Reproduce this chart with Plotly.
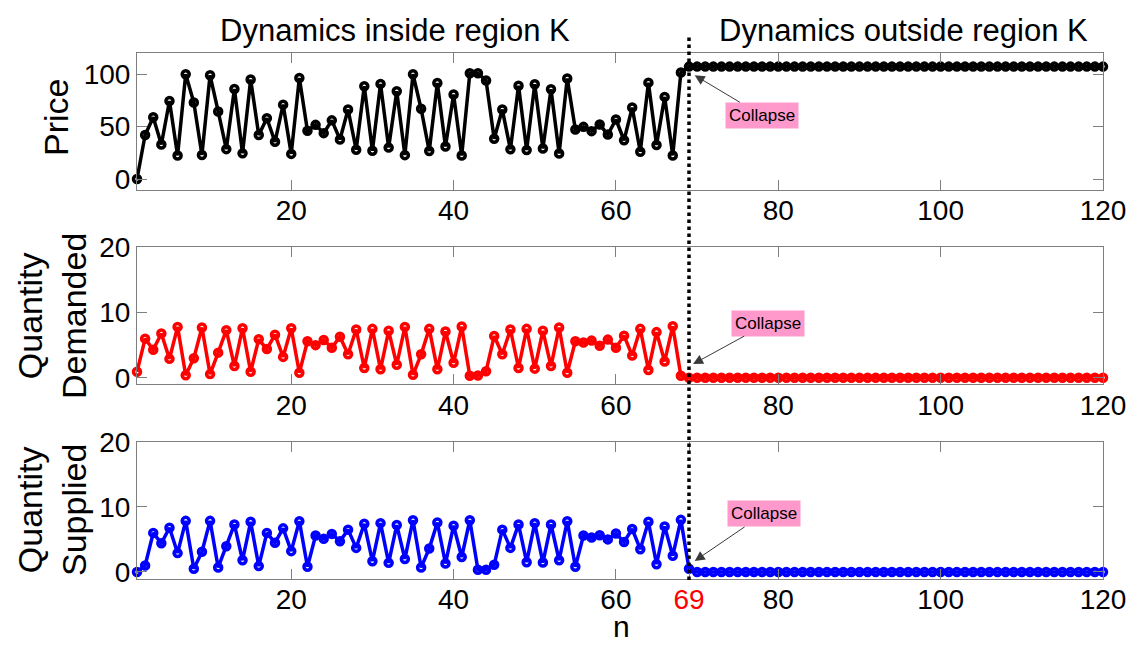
import plotly.graph_objects as go

# Period index
n = list(range(1, 121))

# Price path: oscillation inside region K, then a flat plateau after n = 69
price = [
    0, 42, 59, 33, 74.5, 22.5, 100, 73, 23, 99,
    64.5, 28.5, 86, 24.5, 95, 42, 58, 35.5, 71, 24,
    96.5, 46, 51.7, 43.8, 56, 37.8, 66.3, 28, 88.6, 27,
    90.8, 30, 83.8, 22.8, 100, 67, 26.7, 91.7, 31, 80.6,
    22.4, 101, 101, 94, 38.4, 66.3, 28.3, 89, 27.6, 90.5,
    29.2, 85.7, 24.4, 96, 47.3, 49.8, 45.7, 52, 42.5, 56.8,
    37, 68.2, 26, 92, 32.4, 78.4, 22.5, 101.6,
    107.3, 107.3, 107.3, 107.3, 107.3, 107.3, 107.3, 107.3, 107.3, 107.3,
    107.3, 107.3, 107.3, 107.3, 107.3, 107.3, 107.3, 107.3, 107.3, 107.3,
    107.3, 107.3, 107.3, 107.3, 107.3, 107.3, 107.3, 107.3, 107.3, 107.3,
    107.3, 107.3, 107.3, 107.3, 107.3, 107.3, 107.3, 107.3, 107.3, 107.3,
    107.3, 107.3, 107.3, 107.3, 107.3, 107.3, 107.3, 107.3, 107.3, 107.3,
    107.3, 107.3,
]

# Quantity demanded
q_demanded = [
    0.92, 6.0, 4.3, 6.8, 2.9, 7.8, 0.4, 3.0, 7.7, 0.56,
    3.85, 7.3, 1.8, 7.6, 0.92, 5.9, 4.4, 6.6, 3.2, 7.6,
    0.77, 5.6, 5.0, 5.8, 4.6, 6.3, 3.6, 7.4, 1.5, 7.5,
    1.3, 7.2, 2.0, 7.8, 0.46, 3.6, 7.5, 1.3, 7.1, 2.3,
    7.85, 0.3, 0.36, 1.0, 6.4, 3.6, 7.4, 1.5, 7.5, 1.4,
    7.2, 1.8, 7.7, 0.77, 5.6, 5.4, 5.7, 4.9, 5.85, 4.6,
    6.46, 3.4, 7.5, 1.2, 7.0, 2.5, 7.9, 0.3,
    0, 0, 0, 0, 0, 0, 0, 0, 0, 0,
    0, 0, 0, 0, 0, 0, 0, 0, 0, 0,
    0, 0, 0, 0, 0, 0, 0, 0, 0, 0,
    0, 0, 0, 0, 0, 0, 0, 0, 0, 0,
    0, 0, 0, 0, 0, 0, 0, 0, 0, 0,
    0, 0,
]

# Quantity supplied
q_supplied = [
    0, 1.0, 6.0, 4.4, 6.8, 2.9, 7.85, 0.5, 3.1, 7.85,
    0.7, 3.95, 7.3, 1.8, 7.7, 0.9, 6.0, 4.5, 6.7, 3.2,
    7.8, 0.8, 5.6, 5.1, 5.85, 4.7, 6.5, 3.7, 7.4, 1.65,
    7.5, 1.4, 7.2, 2.0, 7.95, 0.7, 3.6, 7.6, 1.3, 7.1,
    2.3, 7.95, 0.35, 0.35, 1.1, 6.5, 3.7, 7.3, 1.5, 7.5,
    1.45, 7.3, 1.8, 7.8, 0.8, 5.6, 5.3, 5.65, 5.0, 5.9,
    4.6, 6.6, 3.5, 7.7, 1.2, 7.0, 2.5, 8.0, 0.5,
    0, 0, 0, 0, 0, 0, 0, 0, 0, 0,
    0, 0, 0, 0, 0, 0, 0, 0, 0, 0,
    0, 0, 0, 0, 0, 0, 0, 0, 0, 0,
    0, 0, 0, 0, 0, 0, 0, 0, 0, 0,
    0, 0, 0, 0, 0, 0, 0, 0, 0, 0,
    0,
]

collapse_n = 69
x_ticks = [20, 40, 60, 80, 100, 120]
x_ticks_bottom = [20, 40, 60, 69, 80, 100, 120]
x_ticktext_bottom = ["20", "40", "60", "<span style='color:#ff0000'>69</span>",
                     "80", "100", "120"]

W, H = 1146, 647
FONT = "Liberation Sans, Arial, sans-serif"
AXIS_GREY = "#7f7f7f"


def px_x(p):
    return p / W


def px_y(p):
    return 1 - p / H


x_dom = [px_x(137), px_x(1103)]
y_doms = [
    [px_y(189.5), px_y(53.3)],
    [px_y(384.3), px_y(247.3)],
    [px_y(578.5), px_y(441.7)],
]

fig = go.Figure()

series = [
    (price, "#000000", "x", "y"),
    (q_demanded, "#ff0000", "x2", "y2"),
    (q_supplied, "#0000ff", "x3", "y3"),
]
for vals, color, xa, ya in series:
    fig.add_trace(go.Scatter(
        x=n, y=vals, xaxis=xa, yaxis=ya, mode="lines+markers",
        line=dict(color=color, width=3.5),
        marker=dict(symbol="circle-open", size=7, color=color,
                    line=dict(color=color, width=3.5)),
        cliponaxis=False, showlegend=False, hoverinfo="skip",
    ))

common_x = dict(
    domain=x_dom, range=[1, 120], showline=True, linecolor=AXIS_GREY,
    linewidth=1, mirror="ticks", ticks="inside", ticklen=10,
    tickcolor=AXIS_GREY, showgrid=False, zeroline=False, automargin=False,
    ticklabelstandoff=-4,
    tickfont=dict(family=FONT, size=28, color="#000000"),
)
common_y = dict(
    showline=True, linecolor=AXIS_GREY, linewidth=1, mirror="ticks",
    ticks="inside", ticklen=10, tickcolor=AXIS_GREY, showgrid=False,
    zeroline=False, automargin=False,
    tickfont=dict(family=FONT, size=28, color="#000000"),
)

fig.update_layout(
    template="none",
    xaxis=dict(common_x, anchor="y", tickvals=x_ticks),
    xaxis2=dict(common_x, anchor="y2", tickvals=x_ticks),
    xaxis3=dict(common_x, anchor="y3", tickvals=x_ticks_bottom,
                ticktext=x_ticktext_bottom),
    yaxis=dict(common_y, anchor="x", domain=y_doms[0], range=[-10, 120],
               tickvals=[0, 50, 100]),
    yaxis2=dict(common_y, anchor="x2", domain=y_doms[1], range=[-1, 20],
                tickvals=[0, 10, 20]),
    yaxis3=dict(common_y, anchor="x3", domain=y_doms[2], range=[-1, 20],
                tickvals=[0, 10, 20]),
)

# Collapse marker spanning all three panels
fig.add_shape(type="line", xref="x", yref="paper", x0=collapse_n, x1=collapse_n,
              y0=px_y(580), y1=px_y(36),
              line=dict(color="#000000", width=3.5, dash="dot"))

annotations = []


def label(text, cx, cy, size, angle=0):
    return dict(text=text, xref="paper", yref="paper", x=px_x(cx), y=px_y(cy),
                xanchor="center", yanchor="middle", showarrow=False,
                textangle=angle, font=dict(family=FONT, size=size, color="#000000"))


# Region headings
annotations.append(label("Dynamics inside region K", 395, 30, 31))
annotations.append(label("Dynamics outside region K", 903, 30, 31))

# Axis titles
annotations.append(label("n", 621, 626, 30))
annotations.append(label("Price", 56, 118, 34, -90))
annotations.append(label("Quantity<br>Demanded", 52, 316, 34, -90))
annotations.append(label("Quantity<br>Supplied", 52, 510, 34, -90))

# Collapse callouts
for xa, ya, hx, hy, ax, ay in [("x", "y", 69.7, 99, 67, 40),
                               ("x2", "y2", 69.5, 2.1, 75, -41),
                               ("x3", "y3", 69.7, 1.7, 69, -47)]:
    annotations.append(dict(
        text="Collapse", xref=xa, yref=ya, x=hx, y=hy, ax=ax, ay=ay,
        showarrow=True, arrowhead=2, arrowsize=2, arrowwidth=1,
        arrowcolor="#3a3a3a", bgcolor="#ff99cc", borderpad=3,
        font=dict(family=FONT, size=17, color="#000000"),
    ))

fig.update_layout(
    annotations=annotations,
    width=W, height=H, autosize=False,
    margin=dict(l=0, r=0, t=0, b=0),
    paper_bgcolor="#ffffff", plot_bgcolor="#ffffff",
    showlegend=False,
)

fig.write_html("out.html")
